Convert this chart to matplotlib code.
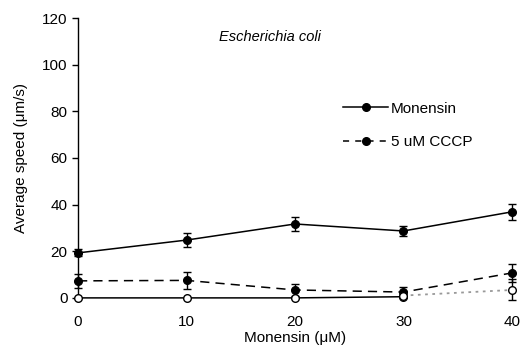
import matplotlib
matplotlib.use("Agg")
import matplotlib.pyplot as plt
from matplotlib.lines import Line2D

plt.rcParams['font.family'] = ['Liberation Sans', 'DejaVu Sans']

# --- data ---
monensin = [0, 10, 20, 30, 40]
speed_mon = [19.3, 24.8, 31.7, 28.7, 36.9]
err_mon = [1.5, 3.0, 3.2, 2.0, 3.4]

speed_cccp = [7.3, 7.5, 3.4, 2.5, 10.7]
err_cccp = [3.0, 3.8, 2.5, 2.0, 4.0]

x_open = [0, 10, 20, 30]
speed_open = [0, 0, 0, 0.5]

x_dot = [30, 40]
speed_dot = [1.0, 3.4]
err_dot = [0.8, 4.5]

fig = plt.figure(figsize=(5.24, 3.48), dpi=100)
ax = fig.add_axes([0.149, 0.144, 0.828, 0.804])

ax.errorbar(monensin, speed_mon, yerr=err_mon, color='black', lw=1.1,
            marker='o', ms=5.5, mfc='black', capsize=3, elinewidth=1,
            clip_on=False, zorder=4)
ax.errorbar(monensin, speed_cccp, yerr=err_cccp, color='black', lw=1.1,
            ls=(0, (6, 4)), marker='o', ms=5.5, mfc='black', capsize=3,
            elinewidth=1, clip_on=False, zorder=4)
ax.plot(x_open, speed_open, color='black', lw=1.1, marker='o', ms=5.5,
        mfc='white', mec='black', clip_on=False, zorder=5)
ax.errorbar(x_dot, speed_dot, yerr=err_dot, color='#999999', lw=1.3,
            ls=(0, (1.5, 2.5)), marker='o', ms=5.5, mfc='white', mec='black',
            ecolor='black', capsize=3, elinewidth=1, clip_on=False, zorder=5)

ax.set_xlim(0, 40)
ax.set_ylim(0, 120)
ax.set_xticks(monensin)
ax.set_yticks([0, 20, 40, 60, 80, 100, 120])
ax.tick_params(axis='x', length=0, pad=12, labelsize=11)
ax.tick_params(axis='y', length=4, width=1, direction='out', labelsize=11)

for s in ['top', 'right', 'bottom']:
    ax.spines[s].set_visible(False)
ax.spines['left'].set_linewidth(1)

ax.set_xlabel('Monensin (μM)', fontsize=11, labelpad=2)
ax.set_ylabel('Average speed (μm/s)', fontsize=11, labelpad=10)

ax.text(17.7, 112, 'Escherichia coli', style='italic', fontsize=10.5,
        ha='center', va='center')

handles = [
    Line2D([], [], color='black', lw=1.1, marker='o', ms=5.5),
    Line2D([], [], color='black', lw=1.1, ls=(0, (4, 4)), marker='o', ms=5.5),
]
ax.legend(handles, ['Monensin', '5 uM CCCP'], loc='upper left',
          bbox_to_anchor=(0.58, 0.75), frameon=False,
          handlelength=2.9, handletextpad=0.2, labelspacing=1.25,
          fontsize=11)

fig.savefig('out.png', dpi=100)
